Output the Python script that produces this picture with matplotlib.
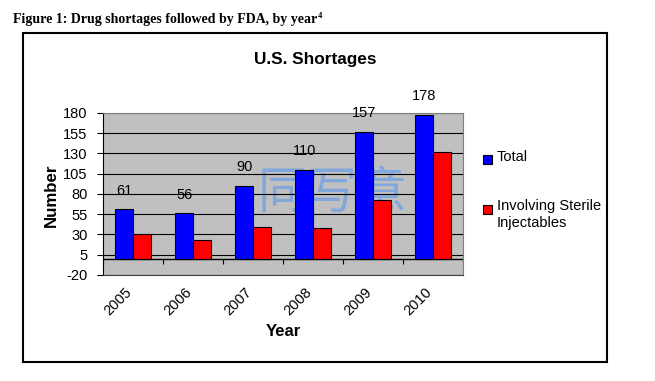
import numpy as np
import matplotlib
matplotlib.use('Agg')
import matplotlib.pyplot as plt
import matplotlib.transforms as mtransforms
from matplotlib import font_manager as fm
from matplotlib.patches import Rectangle

# ---- data ----
years = ['2005', '2006', '2007', '2008', '2009', '2010']
total = [61, 56, 90, 110, 157, 178]
sterile = [30, 23, 39, 38, 72, 132]
yticks = [-20, 5, 30, 55, 80, 105, 130, 155, 180]
series_names = ['Total', 'Involving Sterile\nInjectables']


def has_font(name):
    try:
        fm.findfont(fm.FontProperties(family=name), fallback_to_default=False)
        return True
    except Exception:
        return False


SANS = 'Liberation Sans'
NARROW = 'Liberation Sans Narrow' if has_font('Liberation Sans Narrow') else SANS
SERIF = 'Liberation Serif'
CJK = 'Noto Sans CJK SC'

W, H = 655, 381
fig = plt.figure(figsize=(W / 100, H / 100), dpi=100)


def fx(px):
    return px / W


def fy(py):
    return 1 - py / H


ax = fig.add_axes([fx(103), fy(275), fx(463) - fx(103), fy(113) - fy(275)])
ax.set_facecolor('#C0C0C0')

x = np.arange(len(years))
bw = 0.295
ax.bar(x - bw / 2, total, bw, color='#0000FF', edgecolor='black', linewidth=0.8, zorder=3)
ax.bar(x + bw / 2, sterile, bw, color='#FF0000', edgecolor='black', linewidth=0.8, zorder=3)

ax.set_xlim(-0.5, len(years) - 0.5)
ax.set_ylim(yticks[0], yticks[-1])
ax.set_yticks(yticks)
ax.set_yticklabels([str(t) for t in yticks], family=NARROW, fontsize=10.5)
ax.set_axisbelow(True)
ax.yaxis.grid(True, color='black', linewidth=0.8)
ax.tick_params(axis='y', length=4, width=0.8, color='black', pad=7)

# category axis crossing at zero
ax.axhline(0, color='black', linewidth=1.0, zorder=2)
ax.vlines(np.arange(len(years) + 1) - 0.5, -7, 0, color='black', linewidth=0.8, zorder=2)

ax.set_xticks(x)
ax.set_xticklabels(years, rotation=45, ha='right', va='top', rotation_mode='anchor',
                   family=NARROW, fontsize=10.5)
ax.tick_params(axis='x', length=0, pad=7)
shift = mtransforms.ScaledTranslation(-0.08, 0, fig.dpi_scale_trans)
for lab in ax.get_xticklabels():
    lab.set_transform(lab.get_transform() + shift)

for s in ['top', 'right']:
    ax.spines[s].set_color('#808080')
ax.spines['left'].set_color('black')
ax.spines['bottom'].set_color('#404040')

# data labels on Total
for i, v in enumerate(total):
    ax.annotate(str(v), (x[i] - bw / 2, v), xytext=(0, 10.4), textcoords='offset points',
                ha='center', va='baseline', family=NARROW, fontsize=10.5)

# watermark
ax.text(fx(333), fy(194), '同写意', transform=fig.transFigure, family=[CJK, 'DejaVu Sans'],
        fontsize=36, color='#6E9FE6', alpha=0.75, ha='center', va='center', zorder=0.4)

# axis titles
fig.text(fx(51), fy(195), 'Number', rotation=90, ha='center', va='center',
         family=SANS, fontweight='bold', fontsize=12.2)
fig.text(fx(283), fy(336), 'Year', ha='center', va='baseline',
         family=SANS, fontweight='bold', fontsize=12)

# chart title
fig.text(fx(315), fy(64), 'U.S. Shortages', ha='center', va='baseline',
         family=SANS, fontweight='bold', fontsize=12.4)

# legend
colors = ['#0000FF', '#FF0000']
sq_top = [155, 205]
for c, t in zip(colors, sq_top):
    fig.add_artist(Rectangle((fx(483), fy(t + 9)), fx(9), 9 / H, transform=fig.transFigure,
                             facecolor=c, edgecolor='black', linewidth=0.8))
fig.text(fx(497), fy(157), series_names[0], ha='left', va='center', family=NARROW, fontsize=10.5)
fig.text(fx(497), fy(199), series_names[1], ha='left', va='top', family=NARROW, fontsize=10.5,
         linespacing=1.3)

# chart border
fig.add_artist(Rectangle((fx(23), fy(362)), fx(607) - fx(23), fy(33) - fy(362),
                         transform=fig.transFigure, fill=False, edgecolor='black', linewidth=1.5))

# caption with superscript
cap = fig.text(fx(13), fy(22.7), 'Figure 1: Drug shortages followed by FDA, by year',
               ha='left', va='baseline', family=SERIF, fontweight='bold', fontsize=10)
fig.canvas.draw()
bb = cap.get_window_extent()
fig.text((bb.x1 + 1) / W, fy(17.5), '4', ha='left', va='baseline', family=SERIF,
         fontweight='bold', fontsize=6.5)

fig.savefig('out.png', dpi=100)
